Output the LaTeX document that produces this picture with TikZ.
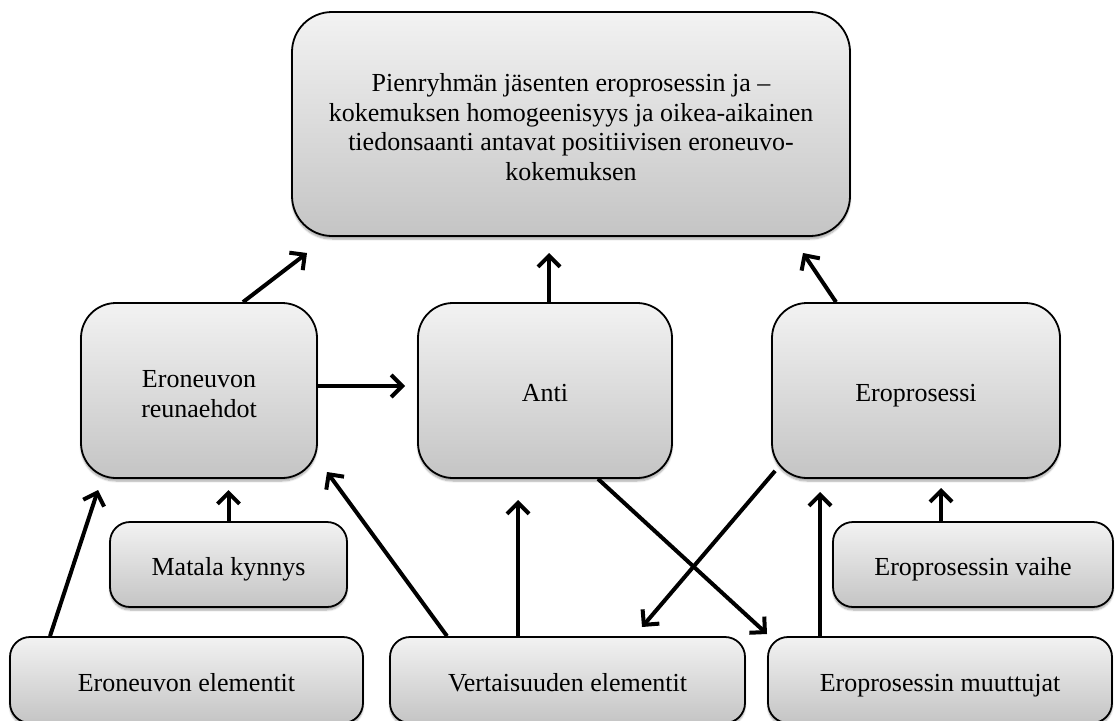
\documentclass[tikz,border=0pt]{standalone}
\usepackage{fontspec}
\setmainfont{Liberation Serif}
\usetikzlibrary{arrows.meta,shadows.blur}
\newcommand{\firstlinestrut}{\rule{0pt}{24pt}}
\begin{document}
\begin{tikzpicture}[x=1pt,y=-1pt,
  box/.style={draw=black, line width=1.8pt, top color=white!95!black, bottom color=white!77!black,
    blur shadow={shadow xshift=0pt, shadow yshift=-3pt, shadow blur steps=6, shadow opacity=35},
    align=center, inner sep=0pt, font=\fontsize{26}{29.5}\selectfont},
  oneline/.style={text height=24pt, text depth=2pt},
  bigbox/.style={box, rounded corners=40pt},
  midbox/.style={box, rounded corners=35pt},
  smallbox/.style={box, rounded corners=20pt, oneline},
  arr/.style={line width=4pt, -{Straight Barb[length=11pt, width=22pt, line width=4pt]}}
]
\useasboundingbox (0,0) rectangle (1115,720);
\clip (0,0) rectangle (1115,720);

\node[bigbox, minimum width=558pt, minimum height=224pt] (top) at (571,124)
  {\firstlinestrut Pienryhmän jäsenten eroprosessin ja –\\kokemuksen homogeenisyys ja oikea-aikainen\\tiedonsaanti antavat positiivisen eroneuvo-\\kokemuksen};

\node[midbox, minimum width=236pt, minimum height=175pt] (reun) at (199,390.5) {\firstlinestrut Eroneuvon\\reunaehdot};
\node[midbox, oneline, minimum width=254pt, minimum height=175pt] (anti) at (545,390.5) {Anti};
\node[midbox, oneline, minimum width=288pt, minimum height=175pt] (erop) at (916,390.5) {Eroprosessi};

\node[smallbox, minimum width=237pt, minimum height=85pt] (matala) at (228.5,564.5) {Matala kynnys};
\node[smallbox, minimum width=280pt, minimum height=85pt] (vaihe) at (973,564.5) {Eroprosessin vaihe};

\node[smallbox, minimum width=353pt, minimum height=86pt] (elem) at (186.5,680) {Eroneuvon elementit};
\node[smallbox, minimum width=355pt, minimum height=86pt] (vert) at (567.5,680) {Vertaisuuden elementit};
\node[smallbox, minimum width=344pt, minimum height=86pt] (muut) at (940,680) {Eroprosessin muuttujat};

\coordinate (t1) at (307,253);
\coordinate (t2) at (549,253);
\coordinate (t3) at (803,253);
\coordinate (t4) at (405,386);
\coordinate (t5) at (98,490);
\coordinate (t6) at (228.5,490);
\coordinate (t7) at (327,472);
\coordinate (t8) at (518,500);
\coordinate (t9) at (767,634);
\coordinate (t10) at (642,627);
\coordinate (t11) at (820,492);
\coordinate (t12) at (941,488);

\draw[arr] ([xshift=44pt]reun.north) -- (t1);
\draw[arr] ([xshift=4pt]anti.north) -- (t2);
\draw[arr] ([xshift=-80pt]erop.north) -- (t3);
\draw[arr] ([yshift=4.5pt]reun.east) -- (t4);
\draw[arr] ([xshift=-136.5pt]elem.north) -- (t5);
\draw[arr] (matala.north) -- (t6);
\draw[arr] ([xshift=-120.5pt]vert.north) -- (t7);
\draw[arr] ([xshift=-49.5pt]vert.north) -- (t8);
\draw[arr] ([xshift=53pt]anti.south) -- (t9);
\draw[arr] ([shift={(4pt,8pt)}]erop.south west) -- (t10);
\draw[arr] ([xshift=-120pt]muut.north) -- (t11);
\draw[arr] ([xshift=-32pt]vaihe.north) -- (t12);
\end{tikzpicture}
\end{document}
